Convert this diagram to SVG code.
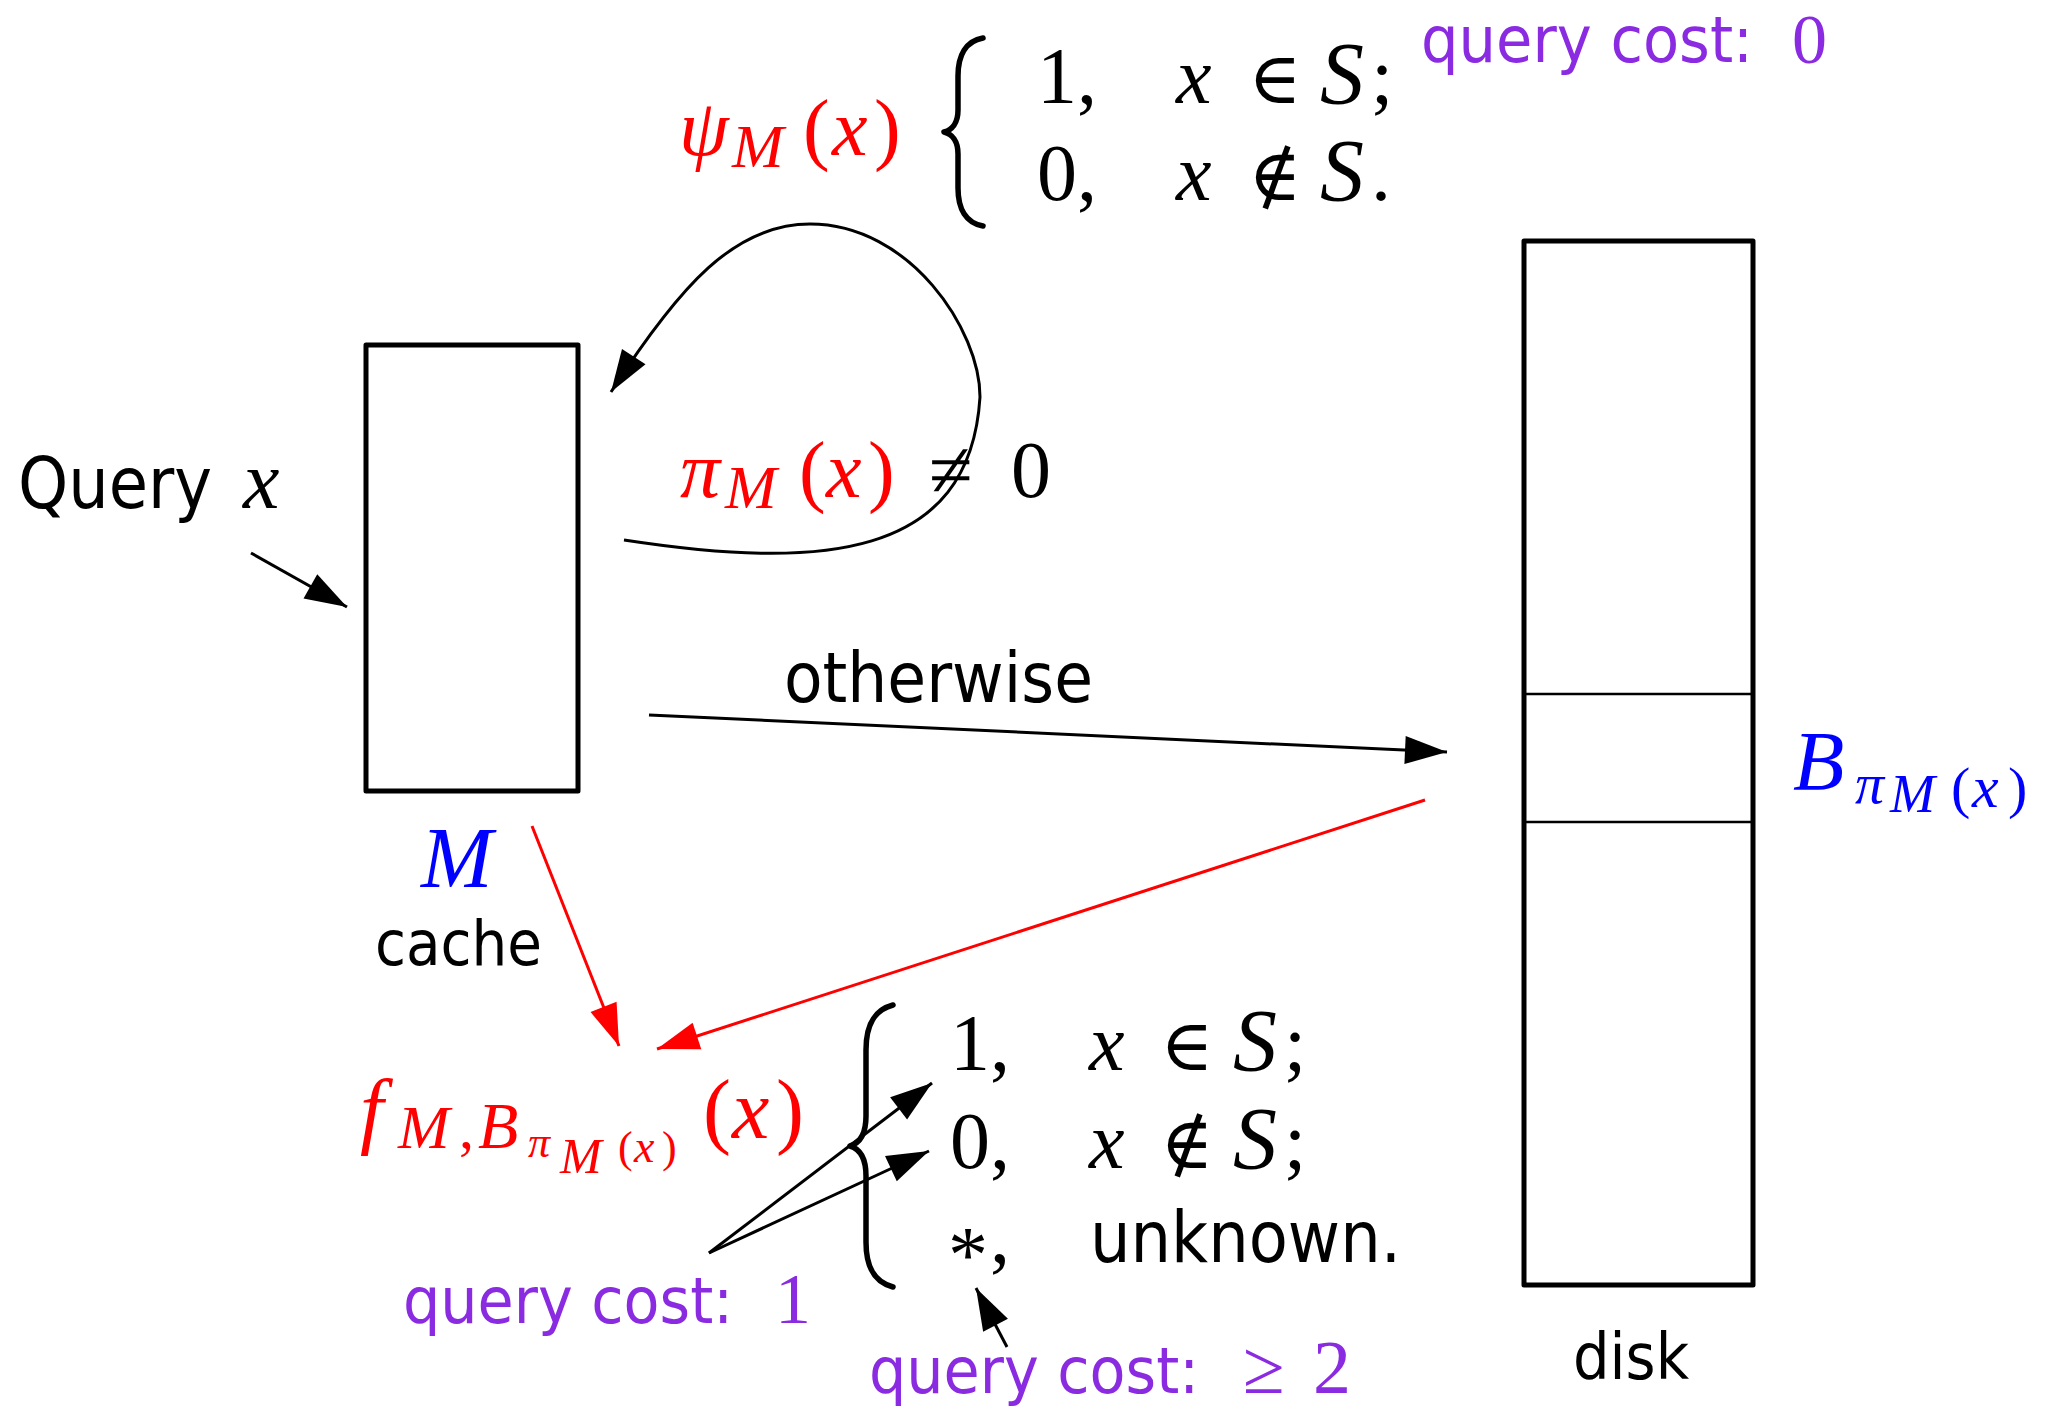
<svg xmlns="http://www.w3.org/2000/svg" width="2050" height="1410" viewBox="0 0 2050 1410">
<defs>
<style>
.sans{font-family:"DejaVu Sans Condensed","DejaVu Sans",sans-serif;}
.math{font-family:"Liberation Serif","DejaVu Serif",serif;font-style:italic;}
.rm{font-family:"Liberation Serif","DejaVu Serif",serif;font-style:normal;}
.red{fill:#ff0000;}
.blue{fill:#0000ff;}
.purple{fill:#8a2be2;}
.blk{fill:#000;}
.box{fill:none;stroke:#000;stroke-width:5;stroke-linejoin:round;}
.div{fill:none;stroke:#000;stroke-width:2.5;}
.edge{fill:none;stroke:#000;stroke-width:3;}
.edge-red{fill:none;stroke:#ff0000;stroke-width:3;}
.brace{fill:none;stroke:#000;stroke-width:5.5;stroke-linecap:round;stroke-linejoin:round;}
</style>
<marker id="ah" markerUnits="userSpaceOnUse" markerWidth="44" markerHeight="30" refX="42" refY="14" orient="auto" overflow="visible"><path d="M0,0 L42,14 L0,28 Z" fill="#000"/></marker>
<marker id="ahr" markerUnits="userSpaceOnUse" markerWidth="44" markerHeight="30" refX="42" refY="14" orient="auto" overflow="visible"><path d="M0,0 L42,14 L0,28 Z" fill="#ff0000"/></marker>
</defs>
<rect width="2050" height="1410" fill="#fff"/>

<g id="node-cache">
<rect class="box" x="366" y="345" width="212" height="446"/>
<text class="math blue" x="421" y="887" font-size="86">M</text>
<text class="sans blk" x="375" y="965" font-size="63" textLength="167" lengthAdjust="spacingAndGlyphs">cache</text>
</g>

<g id="node-disk">
<rect class="box" x="1524" y="241" width="229" height="1044"/>
<line class="div" x1="1524" y1="694" x2="1753" y2="694"/>
<line class="div" x1="1524" y1="822" x2="1753" y2="822"/>
<text class="sans blk" x="1573" y="1379" font-size="64" textLength="116" lengthAdjust="spacingAndGlyphs">disk</text>
<text class="math blue" font-size="84"><tspan x="1793" y="790">B</tspan><tspan x="1855" y="803" font-size="58">π</tspan><tspan x="1890" y="812" font-size="54">M</tspan><tspan class="rm" x="1951" y="807" font-size="58">(</tspan><tspan x="1972" y="807" font-size="60">x</tspan><tspan class="rm" x="2008" y="807" font-size="58">)</tspan></text>
</g>

<g id="node-query">
<text class="sans blk" x="18" y="508" font-size="71" textLength="194" lengthAdjust="spacingAndGlyphs">Query</text>
<text class="math blk" x="243" y="508" font-size="82">x</text>
</g>

<g id="node-psi">
<text class="math red" font-size="80"><tspan x="679" y="155">ψ</tspan><tspan x="732" y="167" font-size="62">M</tspan><tspan class="rm" x="803" y="155">(</tspan><tspan x="832" y="155">x</tspan><tspan class="rm" x="874" y="155">)</tspan></text>
<path class="brace" d="M983,38 C966,41 958,55 958,76 L958,110 C958,123 952,130 944,132 C952,134 958,141 958,154 L958,188 C958,209 966,223 983,226"/>
<text class="rm blk" font-size="80"><tspan x="1037" y="103">1,</tspan><tspan class="math" x="1176" y="103">x</tspan><tspan x="1248" y="103" font-size="72">∈</tspan><tspan class="math" x="1320" y="103" font-size="88">S</tspan><tspan x="1371" y="103">;</tspan></text>
<text class="rm blk" font-size="80"><tspan x="1037" y="200">0,</tspan><tspan class="math" x="1176" y="200">x</tspan><tspan x="1248" y="200" font-size="72">∉</tspan><tspan class="math" x="1320" y="200" font-size="88">S</tspan><tspan x="1371" y="200">.</tspan></text>
</g>

<g id="node-cost0">
<text class="sans purple" x="1421" y="62" font-size="64" textLength="332" lengthAdjust="spacingAndGlyphs">query cost:</text>
<text class="rm purple" x="1792" y="63" font-size="70">0</text>
</g>

<g id="node-pi">
<text class="math red" font-size="80"><tspan x="680" y="497">π</tspan><tspan x="725" y="508" font-size="62">M</tspan><tspan class="rm" x="799" y="497">(</tspan><tspan x="826" y="497">x</tspan><tspan class="rm" x="868" y="497">)</tspan></text>
<text class="rm blk" font-size="80"><tspan x="929" y="497">≠</tspan><tspan x="1011" y="497">0</tspan></text>
</g>

<g id="node-otherwise">
<text class="sans blk" x="784" y="702" font-size="70" textLength="309" lengthAdjust="spacingAndGlyphs">otherwise</text>
</g>

<g id="node-f">
<text class="math red" font-size="84"><tspan x="360" y="1138">f</tspan><tspan x="398" y="1148" font-size="62">M</tspan><tspan class="rm" x="459" y="1148" font-size="60">,</tspan><tspan x="478" y="1148" font-size="66">B</tspan><tspan x="528" y="1157" font-size="44">π</tspan><tspan x="560" y="1173" font-size="50">M</tspan><tspan class="rm" x="618" y="1162" font-size="44">(</tspan><tspan x="634" y="1162" font-size="46">x</tspan><tspan class="rm" x="662" y="1162" font-size="44">)</tspan><tspan class="rm" x="703" y="1138">(</tspan><tspan x="732" y="1138">x</tspan><tspan class="rm" x="776" y="1138">)</tspan></text>
</g>

<g id="node-cases">
<path class="brace" d="M893,1005 C874,1010 866,1025 866,1050 L866,1116 C866,1133 860,1143 850,1146 C860,1149 866,1159 866,1176 L866,1242 C866,1267 874,1282 893,1287"/>
<text class="rm blk" font-size="80"><tspan x="950" y="1070">1,</tspan><tspan class="math" x="1089" y="1070">x</tspan><tspan x="1160" y="1070" font-size="72">∈</tspan><tspan class="math" x="1233" y="1070" font-size="88">S</tspan><tspan x="1284" y="1070">;</tspan></text>
<text class="rm blk" font-size="80"><tspan x="950" y="1168">0,</tspan><tspan class="math" x="1089" y="1168">x</tspan><tspan x="1160" y="1168" font-size="72">∉</tspan><tspan class="math" x="1233" y="1168" font-size="88">S</tspan><tspan x="1284" y="1168">;</tspan></text>
<text class="rm blk" font-size="80"><tspan x="948" y="1282">*</tspan><tspan x="990" y="1262">,</tspan></text>
<text class="sans blk" x="1090" y="1262" font-size="71" textLength="311" lengthAdjust="spacingAndGlyphs">unknown.</text>
</g>

<g id="node-cost1">
<text class="sans purple" x="403" y="1323" font-size="64" textLength="330" lengthAdjust="spacingAndGlyphs">query cost:</text>
<text class="rm purple" x="775" y="1323" font-size="72">1</text>
</g>

<g id="node-cost2">
<text class="sans purple" x="869" y="1393" font-size="64" textLength="330" lengthAdjust="spacingAndGlyphs">query cost:</text>
<text class="rm purple" font-size="76"><tspan x="1243" y="1393">≥</tspan><tspan x="1313" y="1393">2</tspan></text>
</g>

<g id="connectors">
<line class="edge" x1="251" y1="553" x2="347" y2="607" marker-end="url(#ah)"/>
<path class="edge" d="M624,540 C820,570 970,560 980,397 C980,330 910,224 810,224 C735,224 680,285 611,392" marker-end="url(#ah)"/>
<line class="edge" x1="649" y1="715" x2="1447" y2="752" marker-end="url(#ah)"/>
<line class="edge-red" x1="1425" y1="800" x2="657" y2="1049" marker-end="url(#ahr)"/>
<line class="edge-red" x1="532" y1="826" x2="619" y2="1046" marker-end="url(#ahr)"/>
<line class="edge" x1="709" y1="1253" x2="932" y2="1083" marker-end="url(#ah)"/>
<line class="edge" x1="709" y1="1253" x2="929" y2="1151" marker-end="url(#ah)"/>
<line class="edge" x1="1007" y1="1347" x2="976" y2="1288" marker-end="url(#ah)"/>
</g>
</svg>
